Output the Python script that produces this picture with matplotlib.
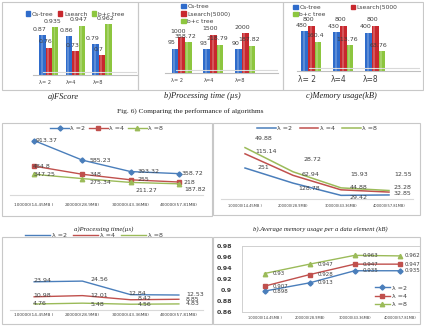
import matplotlib
matplotlib.use('Agg')
import matplotlib.pyplot as plt
from matplotlib.patches import Rectangle, Patch
import numpy as np

W, H = 424, 329

# ---- data ----
lambdas = ["λ= 2", "λ=4", "λ=8"]
bar_names = ["Cs-tree", "Lsearch", "b+c tree"]
fscore_cs = [0.87, 0.86, 0.79]
fscore_ls = [0.76, 0.73, 0.7]
fscore_bc = [0.935, 0.947, 0.962]
time_cs = [95, 93, 90]
time_ls = [1000, 1500, 2000]
time_bc = [358.72, 218.79, 187.82]
mem_cs = [480, 430, 400]
mem_ls = [800, 800, 800]
mem_bc = [160.4, 113.76, 63.76]

sizes = ["100000(14.45MB )", "200000(28.9MB)", "300000(43.36MB)", "400000(57.81MB)"]
line_names = ["λ =2", "λ =4", "λ =8"]
ptime_l2 = [913.37, 585.23, 393.32, 358.72]
ptime_l4 = [484.8, 348, 255, 218]
ptime_l8 = [347.25, 275.34, 211.27, 187.82]
amem_l2 = [251, 128.78, 29.42, 32.85]
amem_l4 = [115.14, 62.94, 44.88, 23.28]
amem_l8 = [49.88, 28.72, 15.93, 12.55]
qtime_l2 = [23.94, 24.56, 12.84, 12.53]
qtime_l4 = [10.98, 12.01, 8.42, 8.85]
qtime_l8 = [4.76, 5.48, 4.56, 4.83]
fs_l2 = [0.898, 0.913, 0.935, 0.935]
fs_l4 = [0.907, 0.928, 0.947, 0.947]
fs_l8 = [0.93, 0.947, 0.963, 0.962]

bar_colors = ['#2F6CCB', '#C8282E', '#8DC63F']
line_colors = ['#4A7EBB', '#C0504D', '#9BBB59']
txt = '#404040'
frame = '#c8c8c8'

fig = plt.figure(figsize=(W / 100, H / 100), dpi=100)


def px(x0, y0, x1, y1):
    return [x0 / W, 1 - y1 / H, (x1 - x0) / W, (y1 - y0) / H]


def box(x0, y0, x1, y1):
    fig.patches.append(Rectangle((x0 / W, 1 - y1 / H), (x1 - x0) / W, (y1 - y0) / H,
                                 transform=fig.transFigure, fill=False,
                                 edgecolor=frame, lw=0.8))


def bar_panel(rect, series, xlim, ylim, log, width, tick_fs, pad):
    ax = fig.add_axes(px(*rect))
    x = np.arange(3)
    if log:
        ax.set_yscale('log')
    base = ylim[0]
    for k, (vals, c) in enumerate(zip(series, bar_colors)):
        xs = x + (k - 1) * width
        v = np.array(vals, dtype=float)
        ax.bar(xs, v - base, width, bottom=base, color=c, edgecolor='none', zorder=2)
        # highlight to fake the cylinder shading
        ax.bar(xs - width * 0.12, v - base, width * 0.3, bottom=base,
               color='white', alpha=0.22, edgecolor='none', zorder=3)
        for xi, vi in zip(xs, vals):
            ax.annotate(f"{vi:g}", (xi, vi), xytext=(-3, 6), textcoords='offset pixels',
                        ha='center', va='center', fontsize=4.5, color=txt, zorder=4)
    ax.set_xlim(*xlim)
    ax.set_ylim(*ylim)
    ax.set_xticks(x - 0.15)
    ax.set_xticklabels(lambdas, fontsize=tick_fs, color=txt)
    ax.tick_params(axis='x', length=0, pad=pad)
    ax.set_yticks([])
    ax.yaxis.set_minor_locator(matplotlib.ticker.NullLocator())
    for s in ['top', 'right', 'left']:
        ax.spines[s].set_visible(False)
    ax.spines['bottom'].set_color('#bfbfbf')
    ax.spines['bottom'].set_linewidth(0.8)
    ax.plot([0.1, 1.0], [0.045, 0.045], transform=ax.transAxes, color='#d9d9d9', lw=0.8)
    ax.patch.set_alpha(0)
    return ax


def patches():
    return [Patch(color=c) for c in bar_colors]


# ---- top row: bar charts ----
box(2, 2, 138, 90)
box(138, 2, 283, 90)
box(283, 2, 423, 90)

bar_panel((33, 12, 137, 75), [fscore_cs, fscore_ls, fscore_bc],
          (-0.6, 3.32), (0.53, 1.066), False, 0.24, 3.6, 3.5)
fig.legend(patches(), bar_names, loc='center', bbox_to_anchor=(75 / W, 1 - 14 / H),
           ncol=3, fontsize=4.3, frameon=False, handlelength=0.7, handleheight=0.7,
           handletextpad=0.3, columnspacing=0.8, labelcolor=txt)

bar_panel((165, 12, 278, 73), [time_cs, time_ls, time_bc],
          (-0.52, 3.03), (0.84, 10 ** 5.137), True, 0.21, 3.6, 3.5)
fig.legend(patches(), ["Cs-tree", "Lsearch(5000)", "b+c tree"], loc='center left',
           bbox_to_anchor=(176 / W, 1 - 14 / H), ncol=1, fontsize=4.3, frameon=False,
           handlelength=0.7, handleheight=0.7, handletextpad=0.3, labelspacing=0.35,
           labelcolor=txt)

bar_panel((297, 12, 420, 71), [mem_cs, mem_ls, mem_bc],
          (-0.45, 3.4), (8.5, 10 ** 3.517), True, 0.21, 5.5, 3.0)
h = patches()
fig.legend([h[0], h[2], h[1]], ["Cs-tree", "b+c tree", "Lsearch(5000"], loc='center left',
           bbox_to_anchor=(288 / W, 1 - 11 / H), ncol=2, fontsize=4.3, frameon=False,
           handlelength=0.7, handleheight=0.7, handletextpad=0.3, labelspacing=0.3,
           columnspacing=4.2, labelcolor=txt)

cap = dict(family='Liberation Serif', style='italic', fontsize=6, color='#202020',
           ha='center', va='center')
fig.text(63 / W, 1 - 96 / H, "a)FScore", **cap)
fig.text(202 / W, 1 - 96 / H, "b)Processing time (µs)", **cap)
fig.text(341 / W, 1 - 96 / H, "c)Memory usage(kB)", **cap)
fig.text(190 / W, 1 - 111 / H, "Fig. 6) Comparing the performance of algorithms",
         family='Liberation Serif', fontsize=5.3, color='#202020', ha='center', va='center')


def line_axes(rect, xlim, ylim, tick_fs, pad):
    ax = fig.add_axes(px(*rect))
    ax.set_xlim(*xlim)
    ax.set_ylim(*ylim)
    ax.set_xticks(range(4))
    ax.set_xticklabels(sizes, fontsize=tick_fs, color=txt)
    ax.tick_params(axis='x', length=0, pad=pad)
    ax.set_yticks([])
    for s in ['top', 'right', 'left']:
        ax.spines[s].set_visible(False)
    ax.spines['bottom'].set_color('#d9d9d9')
    ax.spines['bottom'].set_linewidth(0.8)
    ax.patch.set_alpha(0)
    return ax


def labels(ax, ys, texts, offsets, fs=4.5):
    for i, (y, t, (dx, dy)) in enumerate(zip(ys, texts, offsets)):
        ax.annotate(t, (i, y), xytext=(dx, dy), textcoords='offset pixels',
                    ha='left', va='center', fontsize=fs, color=txt)


# ---- middle left: processing time ----
box(2, 123, 212, 216)
ax = line_axes((10, 128, 203, 195), (-0.5, 3.5), (0, 1125), 3.1, 5.5)
markers = ['D', 's', '^']
for vals, c, m, nm in zip([ptime_l2, ptime_l4, ptime_l8], line_colors, markers, line_names):
    ax.plot(range(4), vals, color=c, lw=1.0, marker=m, ms=3.2 if m != 'D' else 2.6, label=nm)
labels(ax, ptime_l2, [f"{v:g}" for v in ptime_l2], [(2, 0), (7, 0), (7, 0), (3, 0)])
labels(ax, ptime_l4, [f"{v:g}" for v in ptime_l4], [(-1, 0), (7, 0), (7, 0), (5, 0)])
labels(ax, ptime_l8, [f"{v:g}" for v in ptime_l8], [(-1, 0), (7, -4), (5, -8), (5, -6)])
ax.legend(loc='center', bbox_to_anchor=(0.5, 1.0), ncol=3, fontsize=4.5, frameon=False,
          handlelength=3.0, handletextpad=0.2, columnspacing=0.6, labelcolor=txt)
fig.text(104 / W, 1 - 229 / H, "a)Processing time(µs)", family='Liberation Serif',
         style='italic', fontsize=4.8, color='#202020', ha='center', va='center')

# ---- middle right: average memory usage (stacked lines) ----
box(213, 123, 420, 215)
ax = line_axes((221, 128, 413, 199), (-0.5, 3.5), (0, 575), 2.6, 3.5)
cum2 = np.array(amem_l2)
cum4 = cum2 + np.array(amem_l4)
cum8 = cum4 + np.array(amem_l8)
for vals, c, nm in zip([cum2, cum4, cum8], line_colors, line_names):
    ax.plot(range(4), vals, color=c, lw=1.1, label=nm)
labels(ax, cum2, [f"{v:g}" for v in amem_l2], [(13, 1), (5, -5), (8, -2), (5, 1)])
labels(ax, cum4, [f"{v:g}" for v in amem_l4], [(10, 2), (9, 1), (9, 2), (5, 5)])
labels(ax, cum8, [f"{v:g}" for v in amem_l8], [(10, 9), (11, 12), (9, 13), (5, 16)])
ax.legend(loc='center', bbox_to_anchor=(0.5, 1.0), ncol=3, fontsize=4.5, frameon=False,
          handlelength=3.0, handletextpad=0.2, columnspacing=1.2, labelcolor=txt)
fig.text(320 / W, 1 - 229 / H, "b).Average memory usage per a data element (kB)",
         family='Liberation Serif', style='italic', fontsize=4.8, color='#202020',
         ha='center', va='center')

# ---- bottom left: query time ----
box(2, 237, 212, 324)
ax = line_axes((10, 243, 203, 309.5), (-0.5, 3.5), (0, 57.5), 3.1, 2.5)
for vals, c, nm in zip([qtime_l2, qtime_l4, qtime_l8], line_colors, line_names):
    ax.plot(range(4), vals, color=c, lw=1.0, label=nm)
labels(ax, qtime_l2, [f"{v:g}" for v in qtime_l2], [(-1, 1), (8, 2), (-2, 1), (7, 1)])
labels(ax, qtime_l4, [f"{v:g}" for v in qtime_l4], [(-1, 1), (8, 0), (7, 1), (7, 0)])
labels(ax, qtime_l8, [f"{v:g}" for v in qtime_l8], [(-1, 0), (8, -1), (7, 0), (7, 0)])
ax.legend(loc='center', bbox_to_anchor=(84 / 193, 1 + 8 / 66.5), ncol=3,
          fontsize=4.5, frameon=False, handlelength=4.0, handletextpad=0.3,
          columnspacing=1.0, labelcolor=txt)

# ---- bottom right: FScore lines ----
box(213, 237, 420, 324)
ax = fig.add_axes(px(242, 246, 420, 312))
for vals, c, m, nm in zip([fs_l2, fs_l4, fs_l8], line_colors, markers, line_names):
    ax.plot(range(4), vals, color=c, lw=1.0, marker=m, ms=3.2 if m != 'D' else 2.6, label=nm)
    for i, v in enumerate(vals):
        ax.annotate(f"{v:g}", (i, v), xytext=(8 if i < 3 else 5, 0), textcoords='offset pixels',
                    ha='left', va='center', fontsize=4.0, color=txt)
ax.set_xlim(-0.5, 3.45)
ax.set_ylim(0.86, 0.98)
yt = [0.86, 0.88, 0.9, 0.92, 0.94, 0.96, 0.98]
ax.set_yticks(yt)
ax.set_yticklabels([f"{v:g}" for v in yt], fontsize=4.6, color=txt, fontweight='bold')
ax.set_xticks(range(4))
ax.set_xticklabels(sizes, fontsize=2.6, color=txt)
ax.tick_params(axis='y', length=0, pad=7)
ax.tick_params(axis='x', length=0, pad=3)
for s in ax.spines.values():
    s.set_color('#d0d0d0')
    s.set_linewidth(0.7)
ax.legend(loc='center left', bbox_to_anchor=(369 / W, 1 - 296 / H),
          bbox_transform=fig.transFigure, fontsize=4.5, frameon=False, handlelength=2.5,
          handletextpad=0.3, labelspacing=0.45, labelcolor=txt)

fig.savefig('out.png', dpi=100, facecolor='white')
